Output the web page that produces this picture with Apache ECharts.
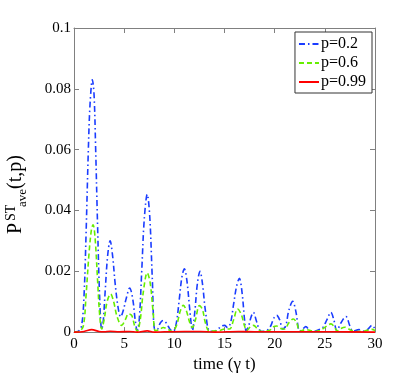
<!DOCTYPE html>
<html>
<head>
<meta charset="utf-8">
<script src="https://cdn.jsdelivr.net/npm/echarts@6/dist/echarts.min.js"></script>
<style>html,body{margin:0;padding:0;background:#fff;}#c{width:415px;height:378px;}</style>
</head>
<body>
<div id="c"></div>
<script>
var seriesNames = ['p=0.2', 'p=0.6', 'p=0.99'];
var xTicks = [0, 5, 10, 15, 20, 25, 30];
var yTicks = [0, 0.02, 0.04, 0.06, 0.08, 0.1];

var p02 = [
  [0,0],[0.4,0.0002],[0.75,0.002],[1.0,0.012],[1.2,0.032],[1.43,0.060],[1.6,0.075],[1.83,0.083],
  [2.0,0.078],[2.16,0.060],[2.35,0.035],[2.55,0.012],[2.76,0.001],[2.9,0.003],[3.1,0.013],
  [3.35,0.025],[3.6,0.030],[3.85,0.025],[4.1,0.016],[4.4,0.008],[4.65,0.005],[4.9,0.007],
  [5.2,0.011],[5.55,0.0145],[5.85,0.011],[6.1,0.004],[6.3,0.0005],[6.5,0.004],[6.75,0.020],
  [7.0,0.037],[7.3,0.0453],[7.55,0.038],[7.8,0.018],[8.05,0.001],[8.3,0.001],[8.6,0.003],
  [8.9,0.0038],[9.2,0.003],[9.6,0.0008],[9.9,0.0003],[10.2,0.003],[10.5,0.011],[10.75,0.018],
  [11.0,0.0208],[11.25,0.017],[11.55,0.007],[11.8,0.0005],[12.05,0.007],[12.3,0.016],
  [12.56,0.020],[12.8,0.016],[13.1,0.007],[13.5,0.0003],[13.9,0.0002],[14.3,0.0008],
  [14.7,0.002],[15.0,0.0022],[15.3,0.0015],[15.6,0.003],[15.9,0.009],[16.2,0.015],
  [16.48,0.0177],[16.75,0.013],[17.0,0.004],[17.15,0.0005],[17.4,0.002],[17.65,0.005],
  [17.88,0.0065],[18.15,0.004],[18.45,0.001],[18.7,0.0002],[19.2,0.0005],[19.6,0.002],
  [19.9,0.0045],[20.2,0.0055],[20.5,0.004],[20.8,0.001],[21.1,0.002],[21.4,0.007],
  [21.8,0.0101],[22.1,0.007],[22.5,0.0003],[22.8,0.001],[23.1,0.0018],[23.5,0.0005],
  [23.9,0.0002],[24.4,0.0008],[24.8,0.0015],[25.2,0.004],[25.6,0.0065],[25.9,0.004],
  [26.2,0.0005],[26.6,0.003],[27.1,0.0051],[27.5,0.002],[27.8,0.0003],[28.4,0.0008],
  [28.9,0.0003],[29.3,0.001],[29.7,0.0022],[30,0.001]
];
var p06 = [
  [0,0],[0.5,0.0002],[0.93,0.002],[1.2,0.012],[1.5,0.026],[1.75,0.034],[1.9,0.0353],
  [2.1,0.031],[2.35,0.017],[2.55,0.006],[2.76,0.001],[3.0,0.004],[3.3,0.010],[3.65,0.0125],
  [3.95,0.010],[4.3,0.005],[4.75,0.0022],[5.1,0.004],[5.45,0.006],[5.75,0.0055],[6.05,0.002],
  [6.3,0.0003],[6.6,0.004],[6.9,0.013],[7.3,0.0195],[7.6,0.016],[7.9,0.006],[8.1,0.0005],
  [8.5,0.0008],[8.9,0.0015],[9.3,0.001],[9.8,0.0002],[10.2,0.002],[10.6,0.007],[10.9,0.0088],
  [11.2,0.007],[11.55,0.003],[11.8,0.0015],[12.1,0.004],[12.5,0.0087],[12.8,0.0075],
  [13.1,0.003],[13.5,0.0003],[14.5,0.0005],[15.0,0.001],[15.5,0.001],[15.9,0.004],
  [16.3,0.0076],[16.65,0.006],[17.0,0.002],[17.2,0.0005],[17.6,0.0018],[17.9,0.0022],
  [18.3,0.001],[18.7,0.0002],[19.5,0.0006],[19.9,0.0018],[20.2,0.002],[20.6,0.0012],
  [21.0,0.001],[21.4,0.003],[21.85,0.0043],[22.2,0.003],[22.5,0.0003],[23.1,0.0008],
  [24.0,0.0002],[24.5,0.0005],[25.2,0.002],[25.6,0.0027],[26.0,0.0015],[26.2,0.0004],
  [26.6,0.0012],[27.0,0.0016],[27.5,0.0008],[28.0,0.0002],[29.0,0.0004],[29.7,0.0009],[30,0.0005]
];
var p099 = [
  [0,0],[1.0,0.0002],[1.76,0.0008],[2.5,0.0002],[3.0,0.0001],[3.6,0.0003],[4.5,0.0001],
  [5.5,0.0002],[6.3,0],[7.3,0.0004],[8.0,0],[9,0.0001],[11,0.0002],[12.6,0.0002],[14,0],
  [16.4,0.0002],[18,0.0001],[22,0.0001],[26,0.0001],[30,0]
];

var serif = '"Liberation Serif", "DejaVu Serif", serif';
var axisGray = '#808080';

var chart = echarts.init(document.getElementById('c'));
function xAxisCfg(pos, labels) {
  return {
    type: 'value', position: pos, min: xTicks[0], max: xTicks[xTicks.length-1], interval: 5,
    axisLine: {show: true, onZero: false, lineStyle: {color: axisGray, width: 1}},
    axisTick: {show: true, inside: true, length: 5, lineStyle: {color: axisGray}},
    axisLabel: {show: labels, color: '#000', fontFamily: serif, fontSize: 15, margin: 4},
    splitLine: {show: false}
  };
}
function yAxisCfg(pos, labels) {
  return {
    type: 'value', position: pos, min: yTicks[0], max: yTicks[yTicks.length-1], interval: 0.02,
    axisLine: {show: true, onZero: false, lineStyle: {color: axisGray, width: 1}},
    axisTick: {show: true, inside: true, length: 5, lineStyle: {color: axisGray}},
    axisLabel: {show: labels, color: '#000', fontFamily: serif, fontSize: 15, margin: 3},
    splitLine: {show: false}
  };
}
var xa = xAxisCfg('bottom', true);
xa.name = 'time (\u03b3 t)';
xa.nameLocation = 'middle';
xa.nameGap = 23;
xa.nameTextStyle = {color: '#000', fontFamily: serif, fontSize: 17};

chart.setOption({
  animation: false,
  backgroundColor: '#fff',
  grid: {left: 74, right: 40, top: 28, bottom: 43, containLabel: false},
  xAxis: [xa, xAxisCfg('top', false)],
  yAxis: [yAxisCfg('left', true), yAxisCfg('right', false)],
  legend: {
    orient: 'vertical', right: 43, top: 32,
    backgroundColor: '#fff', borderColor: '#333', borderWidth: 1,
    padding: [4, 6, 3, 3], itemGap: 3, itemWidth: 20, itemHeight: 14,
    itemStyle: {opacity: 0},
    textStyle: {fontFamily: serif, fontSize: 16, color: '#000', padding: [0,0,0,-3]},
    data: seriesNames
  },
  series: [
    {name: seriesNames[0], type: 'line', data: p02, smooth: 0.35, symbol: 'none', z: 3,
     lineStyle: {color: '#1a3cff', width: 1.6, type: [6, 3, 1.5, 3]}, itemStyle: {color: '#1a3cff'}},
    {name: seriesNames[1], type: 'line', data: p06, smooth: 0.35, symbol: 'none', z: 4,
     lineStyle: {color: '#66ee00', width: 1.6, type: [5, 3]}, itemStyle: {color: '#66ee00'}},
    {name: seriesNames[2], type: 'line', data: p099, smooth: 0.35, symbol: 'none', z: 5,
     lineStyle: {color: '#ff0000', width: 1.6}, itemStyle: {color: '#ff0000'}}
  ],
  graphic: [{
    type: 'group', x: 26, y: 234, rotation: Math.PI / 2,
    children: [
      {type: 'text', x: 0, y: 0, style: {text: 'P', font: '20px ' + serif, fill: '#000', textVerticalAlign: 'bottom'}},
      {type: 'text', x: 13, y: -8, style: {text: 'ST', font: '14px ' + serif, fill: '#000', textVerticalAlign: 'bottom'}},
      {type: 'text', x: 27, y: 3, style: {text: 'ave', font: '13px ' + serif, fill: '#000', textVerticalAlign: 'bottom'}},
      {type: 'text', x: 45, y: 0, style: {text: '(t,p)', font: '20px ' + serif, fill: '#000', textVerticalAlign: 'bottom'}}
    ]
  }]
});
</script>
</body>
</html>
